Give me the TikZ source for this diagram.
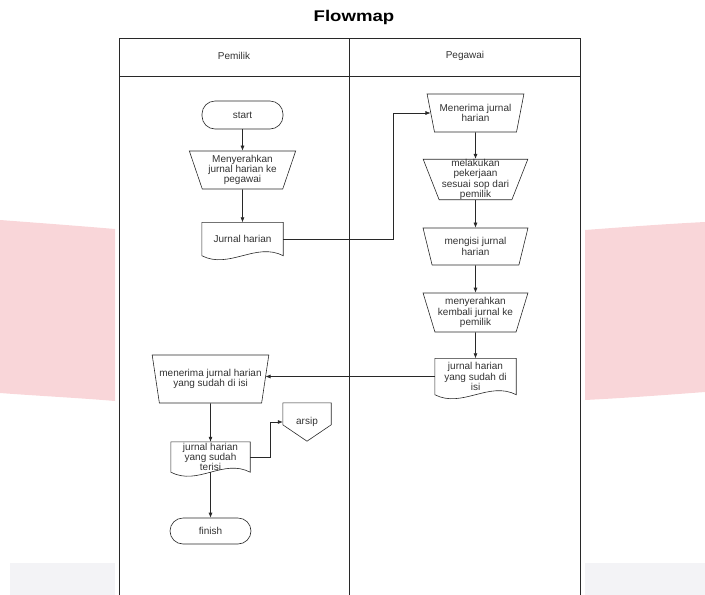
\documentclass[tikz,border=0pt]{standalone}
\usepackage{fontspec}
\setmainfont{Liberation Sans}
\newfontfamily\titlefont[FakeStretch=1.2]{Liberation Sans}
\usepackage{tikz}
\usetikzlibrary{calc,shapes.geometric,arrows.meta}
\definecolor{bgpink}{RGB}{249,214,217}
\definecolor{bggray}{RGB}{243,243,246}
\definecolor{ink}{RGB}{40,40,40}
\definecolor{txt}{RGB}{50,50,50}
\def\docline(#1){\draw[line] (#1.south west) -- (#1.north west) -- (#1.north east) -- (#1.south east) .. controls ($(#1.south east)+(-27,-14)$) and ($(#1.south west)+(27,14)$) .. (#1.south west);}
\tikzset{
	line/.style={draw=ink, line width=0.6pt},
	flow/.style={line, -{Latex[length=5pt,width=4pt]}},
	lbl/.style={font=\fontsize{10}{10.4}\selectfont, text=txt, align=center, inner sep=0pt},
	terminal/.style={lbl, line, rectangle, rounded corners=13pt, minimum width=81, minimum height=28},
	manop/.style={lbl, line, trapezium, trapezium left angle=70, trapezium right angle=70, shape border rotate=180, trapezium stretches=true, minimum width=105, minimum height=38},
	docu/.style={lbl, minimum width=81, minimum height=33},
}

\begin{document}
\begin{tikzpicture}[x=1pt, y=-1pt]
			%%%%% START %%%%%
			\useasboundingbox (0,0) rectangle (705,595);
			
			\fill[bgpink] (0,220) .. controls (40,223) and (80,226) .. (115,229) -- (115,401) .. controls (80,398) and (40,396) .. (0,393) -- cycle;
			\fill[bgpink] (585,230) .. controls (625,227) and (665,224) .. (705,222) -- (705,392) .. controls (665,395) and (625,398) .. (585,400) -- cycle;
			\fill[bggray] (10,563) rectangle (115,595);
			\fill[bggray] (585,563) rectangle (705,595);
			
			\node[font=\titlefont\bfseries\fontsize{15.5}{17}\selectfont, text=black] (judul) at (354,17) {Flowmap};
			
			\draw[line] (119,595) -- (119,38) -- (580,38) -- (580,595);
			\draw[line] (119,76) -- (580,76);
			\draw[line] (349,38) -- (349,595);
			\node[lbl] (pemilik) at (234,56) {Pemilik};
			\node[lbl] (pegawai) at (465,56) {Pegawai};
			
			\node[terminal] (start) at (242.5,115) {start};
			\node[manop, minimum width=107] (serah) at (242.5,170) {Menyerahkan\\jurnal harian ke\\pegawai};
			\node[docu] (jh) at (242.5,239) {Jurnal harian};
			\docline(jh)
			
			\node[manop, minimum width=97] (terima) at (475.5,113) {Menerima jurnal\\harian};
			\node[manop, minimum height=39] (kerja) at (475.5,179.5) {melakukan\\pekerjaan\\sesuai sop dari\\pemilik};
			\node[manop, minimum height=37] (isi) at (475.5,246.5) {mengisi jurnal\\harian};
			\node[manop, minimum height=39] (kembali) at (475.5,312.5) {menyerahkan\\kembali jurnal ke\\pemilik};
			\node[docu, minimum height=36] (jhisi) at (475.5,376.5) {jurnal harian\\yang sudah di\\isi};
			\docline(jhisi)
			
			\node[manop, minimum width=114, minimum height=48] (terimaisi) at (210.5,379) {menerima jurnal harian\\yang sudah di isi};
			\node[docu, minimum width=79, minimum height=30] (terisi) at (210.5,457) {jurnal harian\\yang sudah\\terisi};
			\docline(terisi)
			\node[lbl, minimum width=48, minimum height=38] (arsip) at (307,422) {arsip};
			\draw[line] (arsip.north west) -- (arsip.north east) -- ($(arsip.north east)+(0,22)$) -- (arsip.south) -- ($(arsip.north west)+(0,22)$) -- cycle;
			\node[terminal, minimum height=26] (finish) at (210.5,531) {finish};
			
			\draw[flow] (start) -- (serah);
			\draw[flow] (serah) -- (jh);
			\draw[flow] (jh.east) -| ([xshift=-37pt]terima.west) -- (terima.west);
			\draw[flow] (terima) -- (kerja);
			\draw[flow] (kerja) -- (isi);
			\draw[flow] (isi) -- (kembali);
			\draw[flow] (kembali) -- (jhisi);
			\draw[flow] (jhisi.west) -- (jhisi.west -| terimaisi.east);
			\draw[flow] (terimaisi) -- (terisi);
			\draw[flow] (terisi.east) -| ([xshift=-13pt]arsip.west) -- (arsip.west);
			\draw[flow] (terisi.south) -- (finish);
			
			%%%%% END %%%%%
		\end{tikzpicture}
\end{document}
